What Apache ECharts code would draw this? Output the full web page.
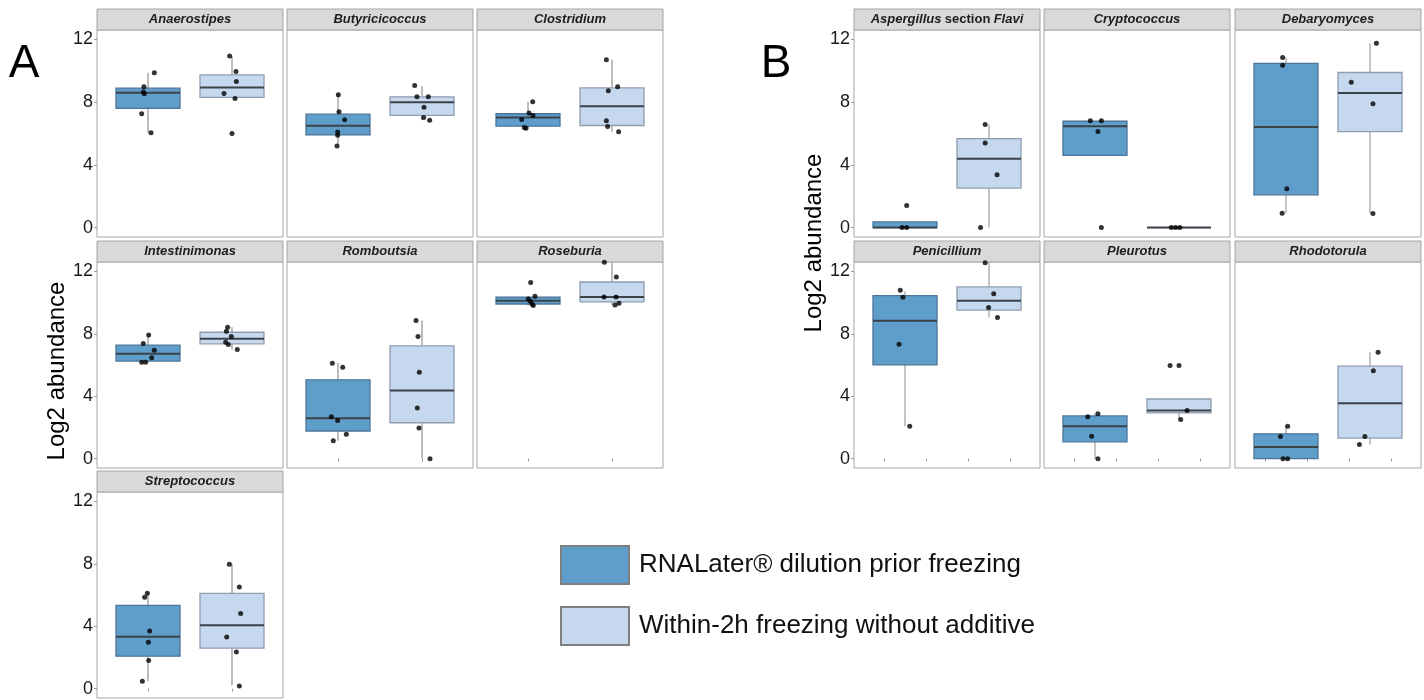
<!DOCTYPE html>
<html><head><meta charset="utf-8">
<script src="https://cdn.jsdelivr.net/npm/echarts@6/dist/echarts.min.js"></script>
<style>html,body{margin:0;padding:0;background:#fff}#c{width:1424px;height:700px}</style>
</head><body><div id="c"></div>
<script>
// ---------------- data ----------------
const groups = ['RNALater\u00ae dilution prior freezing', 'Within-2h freezing without additive'];
const yTicks = [0, 4, 8, 12];

const generaA = ['Anaerostipes','Butyricicoccus','Clostridium','Intestinimonas','Romboutsia','Roseburia','Streptococcus'];
// box stats: [lower whisker, Q1, median, Q3, upper whisker]
const boxA_rna = [
  [6.04, 7.60, 8.60, 8.89, 9.87],
  [5.21, 5.91, 6.49, 7.23, 8.49],
  [6.34, 6.47, 7.02, 7.26, 8.02],
  [6.18, 6.25, 6.72, 7.27, 7.93],
  [1.15, 1.77, 2.58, 5.05, 6.12],
  [9.81, 9.91, 10.11, 10.34, 10.40],
  [0.49, 2.08, 3.33, 5.33, 6.16]
];
const boxA_frz = [
  [8.23, 8.30, 8.94, 9.74, 10.94],
  [6.85, 7.15, 8.00, 8.34, 9.02],
  [6.11, 6.51, 7.74, 8.91, 10.70],
  [6.99, 7.36, 7.68, 8.10, 8.42],
  [0.00, 2.30, 4.37, 7.23, 8.85],
  [9.85, 10.04, 10.36, 11.32, 12.58],
  [0.21, 2.59, 4.06, 6.10, 7.97]
];
const ptsA_rna = [
  [9.87, 8.98, 8.64, 8.53, 7.26, 6.04],
  [8.47, 7.38, 6.87, 6.09, 5.89, 5.21],
  [8.02, 7.30, 7.15, 6.89, 6.38, 6.34],
  [7.93, 7.38, 6.95, 6.46, 6.18, 6.18],
  [6.12, 5.86, 2.69, 2.45, 1.56, 1.15],
  [11.28, 10.40, 10.23, 10.09, 9.91, 9.81],
  [6.12, 5.86, 3.70, 2.97, 1.81, 0.47]
];
const jitA_rna = [
  [0.075, -0.048, -0.056, -0.044, -0.075, 0.036],
  [0.004, 0.012, 0.079, -0.004, -0.004, -0.012],
  [0.056, 0.012, 0.060, -0.075, -0.044, -0.024],
  [0.008, -0.056, 0.075, 0.044, -0.075, -0.028],
  [-0.067, 0.056, -0.079, -0.004, 0.099, -0.056],
  [0.032, 0.083, 0.004, 0.028, 0.048, 0.063],
  [-0.008, -0.040, 0.020, 0.004, 0.008, -0.067]
];
const ptsA_frz = [
  [10.94, 9.96, 9.32, 8.55, 8.23, 6.00],
  [9.06, 8.34, 8.34, 7.68, 7.02, 6.85],
  [10.70, 8.98, 8.72, 6.81, 6.45, 6.11],
  [8.42, 8.17, 7.83, 7.46, 7.31, 6.99],
  [8.85, 7.83, 5.54, 3.24, 1.96, 0.00],
  [12.58, 11.64, 10.36, 10.36, 9.96, 9.85],
  [7.97, 6.52, 4.82, 3.31, 2.34, 0.17]
];
const jitA_frz = [
  [-0.028, 0.048, 0.052, -0.095, 0.036, 0.000],
  [-0.087, -0.060, 0.075, 0.024, 0.020, 0.091],
  [-0.067, 0.067, -0.044, -0.067, -0.052, 0.079],
  [-0.052, -0.067, -0.008, -0.075, -0.044, 0.063],
  [-0.071, -0.048, -0.032, -0.056, -0.036, 0.095],
  [-0.091, 0.052, -0.095, 0.048, 0.083, 0.036],
  [-0.032, 0.087, 0.103, -0.063, 0.052, 0.087]
];

const generaB = ['Aspergillus section Flavi','Cryptococcus','Debaryomyces','Penicillium','Pleurotus','Rhodotorula'];
const boxB_rna = [
  [0.00, 0.00, 0.00, 0.36, 0.36],
  [4.61, 4.61, 6.46, 6.78, 6.78],
  [0.92, 2.09, 6.42, 10.47, 10.85],
  [2.08, 6.01, 8.84, 10.45, 10.73],
  [0.00, 1.08, 2.08, 2.74, 2.87],
  [0.00, 0.00, 0.74, 1.59, 2.08]
];
const boxB_frz = [
  [0.00, 2.52, 4.39, 5.67, 6.57],
  [0.00, 0.00, 0.00, 0.00, 0.00],
  [0.92, 6.12, 8.59, 9.89, 11.75],
  [9.05, 9.52, 10.11, 11.00, 12.55],
  [2.55, 2.93, 3.08, 3.82, 3.82],
  [0.91, 1.32, 3.55, 5.93, 6.82]
];
const ptsB_rna = [
  [1.41, 0, 0],
  [6.82, 6.82, 6.12, 0],
  [10.85, 10.36, 2.47, 0.92],
  [10.79, 10.34, 7.33, 2.08],
  [2.87, 2.68, 1.44, 0],
  [2.08, 1.42, 0, 0]
];
const jitB_rna = [
  [0.020, -0.035, 0.020],
  [-0.056, 0.076, 0.035, 0.076],
  [-0.040, -0.040, 0.010, -0.046],
  [-0.056, -0.025, -0.071, 0.056],
  [0.035, -0.086, -0.040, 0.035],
  [0.020, -0.066, -0.035, 0.020]
];
const ptsB_frz = [
  [6.57, 5.39, 3.37, 0],
  [0, 0, 0],
  [11.75, 9.27, 7.89, 0.90],
  [12.55, 10.56, 9.69, 9.05],
  [5.97, 5.97, 3.08, 2.51],
  [6.82, 5.63, 1.42, 0.91]
];
const jitB_frz = [
  [-0.046, -0.046, 0.096, -0.101],
  [-0.091, -0.040, 0.010],
  [0.076, -0.223, 0.035, 0.035],
  [-0.046, 0.056, -0.005, 0.101],
  [-0.106, 0.000, 0.096, 0.020],
  [0.096, 0.040, -0.061, -0.126]
];

// ---------------- layout / style ----------------
const FONT = '"Liberation Sans", Arial, sans-serif';
const DARK = '#5f9ecb', LIGHT = '#c6d8ee';
const DARK_BORDER = '#4d7598', LIGHT_BORDER = '#8e9db0';
const PW = 186, BOX_HALF = 0.381, XMIN = 0.393, XMAX = 2.607, YMIN = -0.6, YMAX = 12.6;
const colsA = [97, 287, 477], rowsA = [[30, 207], [262, 206], [492, 206]];
const colsB = [854, 1044, 1235], rowsB = [[30, 207], [262, 206]];

const grids = [], xAxes = [], yAxes = [], series = [], graphics = [];

function strip(left, top, name) {
  graphics.push({type: 'rect', shape: {x: left, y: top - 21, width: PW, height: 21},
    style: {fill: '#d9d9d9', stroke: '#a6a6a6', lineWidth: 1}, silent: true});
  let txt;
  if (name === 'Aspergillus section Flavi') {
    txt = '{i|Aspergillus} {n|section} {i|Flavi}';
  } else {
    txt = '{i|' + name + '}';
  }
  const rich = {
    i: {fontStyle: 'italic', fontWeight: 'bold', fontSize: 13, fontFamily: FONT, fill: '#1e1e1e'},
    n: {fontWeight: 'bold', fontSize: 13, fontFamily: FONT, fill: '#1e1e1e'}
  };
  graphics.push({type: 'text', x: left + PW / 2, y: top - 10.5, silent: true,
    style: {text: txt, rich: rich, align: 'center', verticalAlign: 'middle'}});
}

function makeRender(fill, stroke, wColor, wWidth) {
  return function (params, api) {
    const x = api.value(0);
    const c1 = api.coord([x, api.value(1)]);
    const yQ1 = api.coord([x, api.value(2)])[1];
    const yMed = api.coord([x, api.value(3)])[1];
    const yQ3 = api.coord([x, api.value(4)])[1];
    const yWh = api.coord([x, api.value(5)])[1];
    const cx = c1[0], yWl = c1[1];
    const hw = api.size([BOX_HALF, 0])[0];
    return {type: 'group', children: [
      {type: 'line', shape: {x1: cx, y1: yQ3, x2: cx, y2: yWh}, style: {stroke: wColor, lineWidth: wWidth}},
      {type: 'line', shape: {x1: cx, y1: yQ1, x2: cx, y2: yWl}, style: {stroke: wColor, lineWidth: wWidth}},
      {type: 'rect', shape: {x: cx - hw, y: yQ3, width: 2 * hw, height: Math.max(yQ1 - yQ3, 0)},
        style: {fill: fill, stroke: stroke, lineWidth: 1.3}},
      {type: 'line', shape: {x1: cx - hw, y1: yMed, x2: cx + hw, y2: yMed}, style: {stroke: '#3b4248', lineWidth: 2}}
    ]};
  };
}

function addPanel(left, row, name, firstCol, ticksX, bRna, bFrz, pRna, jRna, pFrz, jFrz, wColor, wWidth) {
  const gi = grids.length;
  grids.push({left: left, top: row[0], width: PW, height: row[1], show: true,
    borderColor: '#a6a6a6', borderWidth: 1, backgroundColor: '#fff', containLabel: false});
  xAxes.push({gridIndex: gi, type: 'value', min: XMIN, max: XMAX,
    axisLine: {show: false}, splitLine: {show: false}, axisLabel: {show: false},
    axisTick: {show: !!ticksX, length: 3, lineStyle: {color: '#9a9a9a'}, customValues: ticksX || []}});
  yAxes.push({gridIndex: gi, type: 'value', min: YMIN, max: YMAX,
    axisLine: {show: false}, splitLine: {show: false},
    axisTick: {show: firstCol, length: 3, lineStyle: {color: '#9a9a9a'}, customValues: yTicks},
    axisLabel: {show: firstCol, customValues: yTicks, fontSize: 18, color: '#1a1a1a', fontFamily: FONT, margin: 4}});
  series.push({type: 'custom', name: groups[0], xAxisIndex: gi, yAxisIndex: gi,
    itemStyle: {color: DARK, borderColor: '#7f7f7f'},
    renderItem: makeRender(DARK, DARK_BORDER, wColor, wWidth),
    encode: {x: 0, y: [1, 2, 3, 4, 5]}, data: [[1].concat(bRna)], z: 2, silent: true});
  series.push({type: 'custom', name: groups[1], xAxisIndex: gi, yAxisIndex: gi,
    itemStyle: {color: LIGHT, borderColor: '#7f7f7f'},
    renderItem: makeRender(LIGHT, LIGHT_BORDER, wColor, wWidth),
    encode: {x: 0, y: [1, 2, 3, 4, 5]}, data: [[2].concat(bFrz)], z: 2, silent: true});
  const pts = [];
  pRna.forEach((v, k) => pts.push([1 + jRna[k], v]));
  pFrz.forEach((v, k) => pts.push([2 + jFrz[k], v]));
  series.push({type: 'scatter', name: 'points', xAxisIndex: gi, yAxisIndex: gi,
    symbolSize: 5, itemStyle: {color: '#000'}, data: pts, z: 5, silent: true});
  strip(left, row[0], name);
}

generaA.forEach((g, i) => {
  const r = Math.floor(i / 3), c = i % 3;
  const bottom = (i === 4 || i === 5 || i === 6);
  addPanel(colsA[c], rowsA[r], g, c === 0, bottom ? [1, 2] : null,
    boxA_rna[i], boxA_frz[i], ptsA_rna[i], jitA_rna[i], ptsA_frz[i], jitA_frz[i], '#bdbdbd', 2);
});
generaB.forEach((g, i) => {
  const r = Math.floor(i / 3), c = i % 3;
  addPanel(colsB[c], rowsB[r], g, c === 0, r === 1 ? [0.75, 1.25, 1.75, 2.25] : null,
    boxB_rna[i], boxB_frz[i], ptsB_rna[i], jitB_rna[i], ptsB_frz[i], jitB_frz[i], '#a0a0a0', 1.2);
});

// panel letters and axis titles
graphics.push({type: 'text', x: 24, y: 64, silent: true,
  style: {text: 'A', fontSize: 46, fontFamily: FONT, fill: '#000', align: 'center', verticalAlign: 'middle'}});
graphics.push({type: 'text', x: 776, y: 64, silent: true,
  style: {text: 'B', fontSize: 46, fontFamily: FONT, fill: '#000', align: 'center', verticalAlign: 'middle'}});
graphics.push({type: 'text', x: 57, y: 371, rotation: Math.PI / 2, silent: true,
  style: {text: 'Log2 abundance', fontSize: 24, fontFamily: FONT, fill: '#000', align: 'center', verticalAlign: 'middle'}});
graphics.push({type: 'text', x: 814, y: 243, rotation: Math.PI / 2, silent: true,
  style: {text: 'Log2 abundance', fontSize: 24, fontFamily: FONT, fill: '#000', align: 'center', verticalAlign: 'middle'}});

const chart = echarts.init(document.getElementById('c'), null, {renderer: 'canvas'});
chart.setOption({
  animation: false,
  backgroundColor: '#fff',
  grid: grids, xAxis: xAxes, yAxis: yAxes, series: series,
  legend: {
    orient: 'vertical', left: 560, top: 545, padding: 0, itemWidth: 68, itemHeight: 38, itemGap: 21,
    selectedMode: false,
    textStyle: {fontSize: 26, color: '#111', fontFamily: FONT, padding: [0, 0, 0, 5]},
    data: [
      {name: groups[0], icon: 'rect', itemStyle: {color: DARK, borderColor: '#7f7f7f', borderWidth: 2}},
      {name: groups[1], icon: 'rect', itemStyle: {color: LIGHT, borderColor: '#7f7f7f', borderWidth: 2}}
    ]
  },
  graphic: graphics
});
</script>
</body></html>
